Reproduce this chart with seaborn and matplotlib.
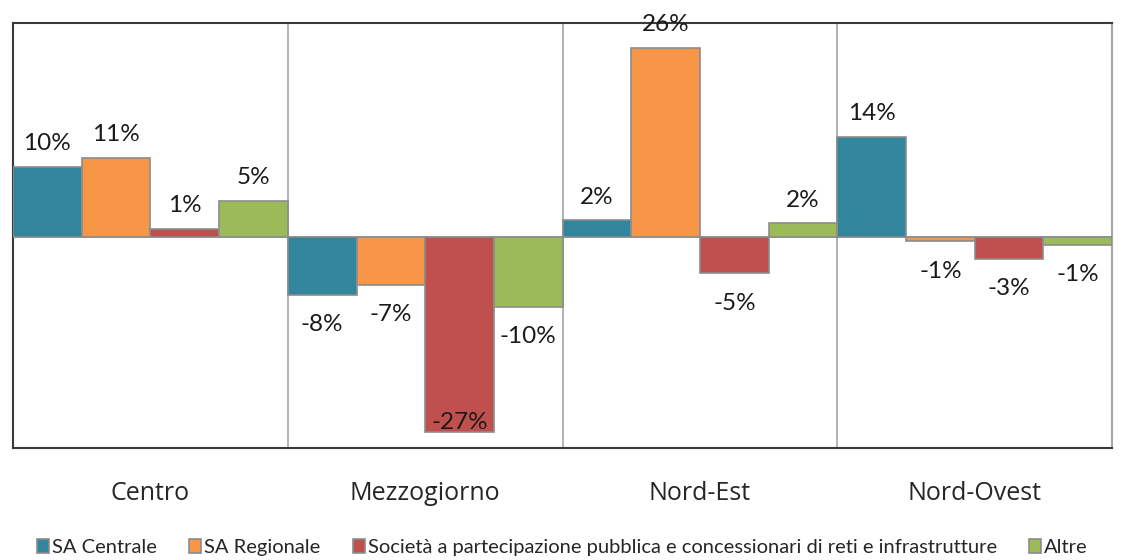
import pandas as pd
import matplotlib.pyplot as plt
import seaborn as sns

# Data
regions = ["Centro", "Mezzogiorno", "Nord-Est", "Nord-Ovest"]
series = [
    "SA Centrale",
    "SA Regionale",
    "Società a partecipazione pubblica e concessionari di reti e infrastrutture",
    "Altre",
]
sa_centrale = [0.097, -0.080, 0.023, 0.138]
sa_regionale = [0.109, -0.066, 0.261, -0.006]
societa = [0.011, -0.269, -0.050, -0.030]
altre = [0.050, -0.096, 0.019, -0.011]
colors = ["#31859C", "#F79646", "#C0504D", "#9BBB59"]

sns.set_theme(style="white")
plt.rcParams['font.family'] = ['Lato', 'DejaVu Sans']

rows = []
for name, vals in zip(series, [sa_centrale, sa_regionale, societa, altre]):
    for reg, v in zip(regions, vals):
        rows.append({"Area": reg, "Serie": name, "Valore": v})
df = pd.DataFrame(rows)

fig = plt.figure(figsize=(11.25, 5.6), dpi=100)
ax = fig.add_axes([0.0116, 0.2, 0.977, 0.759])

sns.barplot(data=df, x="Area", y="Valore", hue="Serie", order=regions,
            hue_order=series, palette=colors, width=1.0, dodge=True,
            edgecolor="#8c8c8c", linewidth=1.2, saturation=1, ax=ax, zorder=3)

ax.set_ylim(-0.291, 0.295)
ax.set_xlim(-0.5, 3.5)
ax.axhline(0, color="#a6a6a6", lw=1.2, zorder=2)
for x in [0.5, 1.5, 2.5]:
    ax.axvline(x, color="#a6a6a6", lw=1.2, zorder=1)

# data labels
for cont in ax.containers:
    for bar in cont:
        h = bar.get_height()
        cx = bar.get_x() + bar.get_width() / 2
        lab = f"{h:.0%}"
        if h >= 0:
            ax.annotate(lab, (cx, h), xytext=(0, 9), textcoords="offset points",
                        ha="center", va="bottom", fontsize=17.5, color="#1a1a1a")
        elif h < -0.2:
            ax.annotate(lab, (cx, h), xytext=(0, -1), textcoords="offset points",
                        ha="center", va="bottom", fontsize=17.5, color="#1a1a1a")
        else:
            ax.annotate(lab, (cx, h), xytext=(0, -14), textcoords="offset points",
                        ha="center", va="top", fontsize=17.5, color="#1a1a1a")

ax.set_yticks([])
ax.set_xlabel("")
ax.set_ylabel("")
ax.tick_params(axis="x", length=0, pad=24, labelsize=18)
for t in ax.get_xticklabels():
    t.set_fontfamily(['Open Sans', 'DejaVu Sans'])
for s in ax.spines.values():
    s.set_color("#3a3a3a")
    s.set_linewidth(1.5)
ax.spines["right"].set_color("#a6a6a6")

handles, labels = ax.get_legend_handles_labels()
ax.legend_.remove()
fig.legend(handles, labels, loc="lower center", bbox_to_anchor=(0.5, -0.025),
           ncol=4, frameon=False, handlelength=0.6,
           handleheight=0.7, handletextpad=0.15, columnspacing=1.6,
           prop={"family": ["Lato", "DejaVu Sans"], "size": 14.5})

plt.savefig("out.png", dpi=100)
plt.close()
